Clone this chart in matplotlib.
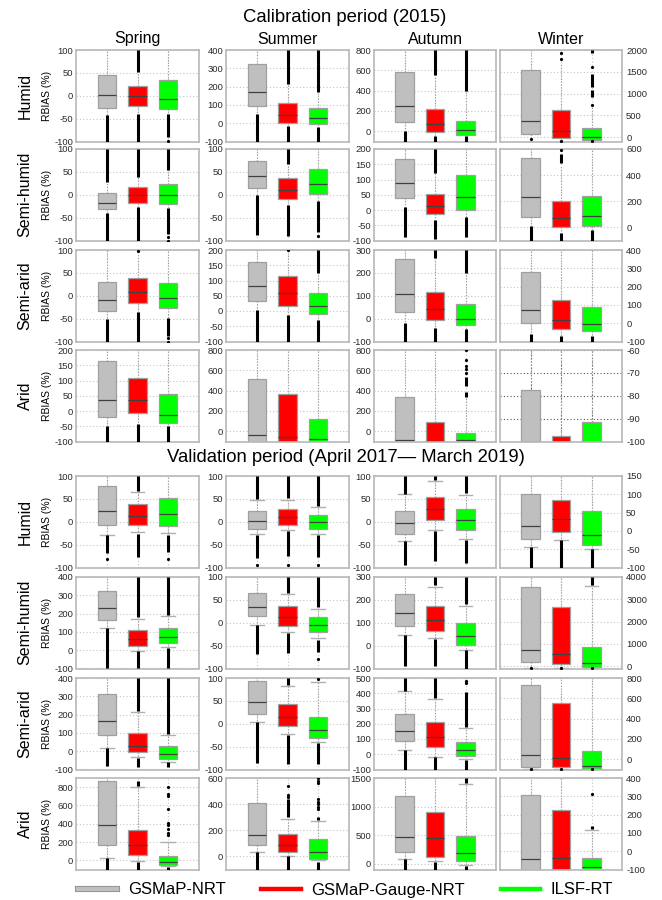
import numpy as np
import matplotlib
matplotlib.use('Agg')
import matplotlib.pyplot as plt
import matplotlib.patheffects as pe
from matplotlib.lines import Line2D

plt.rcParams['font.family'] = ['Liberation Sans', 'DejaVu Sans']

products = ['GSMaP-NRT', 'GSMaP-Gauge-NRT', 'ILSF-RT']
colors = ['#bfbfbf', '#ff0000', '#00ff00']
seasons = ['Spring', 'Summer', 'Autumn', 'Winter']
regions = ['Humid', 'Semi-humid', 'Semi-arid', 'Arid']

# box statistics, [region][season] -> [GSMaP-NRT, GSMaP-Gauge-NRT, ILSF-RT]
# calibration period (2015)
cal_q1 = [
    [[-27, -23, -30], [96, 3, -7], [95, -3, -33], [62, -15, -62]],
    [[-32, -18, -20], [15, -10, 1], [39, -13, -1], [77, 0, 8]],
    [[-34, -16.5, -27.5], [34, 15, -10], [28, -7, -29], [2, -33, -44]],
    [[-18.7, -5.5, -38], [-100, -100, -100], [-100, -100, -100], [-100, -100, -100]],
]
cal_med = [
    [[2, -1, -7], [173, 43, 26], [252, 72, 13], [371, 139, -8]],
    [[-17, 0, 0], [40, 11, 23], [87, 13, 41], [231, 75, 88]],
    [[-9.5, 7.4, -6], [82, 58, 17.6], [108, 41, -1], [73, 20, -7]],
    [[35, 36, -12], [-33, -56, -72], [-89, -99, -89], [-100, -100, -100]],
]
cal_q3 = [
    [[46, 21, 35], [321, 111, 81], [580, 223, 102], [1552, 618, 208]],
    [[4, 17, 23], [74, 37, 57], [168, 53, 115], [528, 199, 237]],
    [[29, 39, 27.5], [161, 114, 59], [259, 116, 63], [280, 127, 86]],
    [[162.6, 107.7, 55], [518, 364, 118], [334, 92, -20], [-77.4, -97.8, -91.6]],
]
cal_whislo = [
    [[-42, -40, -40], [52, -18, -23], [0, -43, -43], [-100, -100, -100]],
    [[-40, -27, -28], [-1, -23, -14], [10, -32, -23], [13, -46, -23]],
    [[-51, -36, -48], [2, -12, -29], [-20, -42, -47], [-59, -70, -70]],
    [[-48, -42, -50], [-100, -100, -100], [-100, -100, -100], [-100, -100, -100]],
]
cal_whishi = [
    [[120, 53, 120], [450, 213, 173], [900, 557, 400], [2100, 1700, 740]],
    [[28, 39, 54], [120, 68, 120], [250, 120, 250], [700, 470, 700]],
    [[120, 90, 120], [250, 190, 123], [400, 264, 200], [500, 500, 500]],
    [[250, 250, 250], [900, 900, 900], [900, 900, 330], [-50, -50, -50]],
]
# dense runs of outliers: (region, season, product, low, high)
cal_spans = [
    (0, 0, 0, -100, -42), (0, 0, 1, 53, 100), (0, 0, 1, -100, -40), (0, 0, 2, -90, -40),
    (0, 1, 0, -100, 52), (0, 1, 1, 213, 400), (0, 1, 1, -100, -18), (0, 1, 2, 173, 400), (0, 1, 2, -100, -23),
    (0, 2, 0, -100, 0), (0, 2, 1, 557, 800), (0, 2, 1, -100, -43), (0, 2, 2, 400, 800), (0, 2, 2, -100, -43),
    (0, 3, 2, 1923, 2000), (0, 3, 2, 1150, 1460), (0, 3, 2, 920, 1073),
    (1, 0, 0, 28, 100), (1, 0, 0, -100, -40), (1, 0, 1, 39, 100), (1, 0, 1, -100, -27), (1, 0, 2, 54, 100), (1, 0, 2, -85, -28),
    (1, 1, 0, -88, -1), (1, 1, 1, 68, 100), (1, 1, 1, -90, -23), (1, 1, 2, -82, -14),
    (1, 2, 0, -90, 10), (1, 2, 1, 120, 200), (1, 2, 1, -95, -32), (1, 2, 2, -90, -23),
    (1, 3, 0, -100, 13), (1, 3, 1, 493, 558), (1, 3, 1, -100, -46), (1, 3, 2, -100, -23),
    (2, 0, 0, -100, -51), (2, 0, 1, -100, -36), (2, 0, 2, -88, -48),
    (2, 1, 0, -100, 2), (2, 1, 1, -100, -12), (2, 1, 2, 123, 200), (2, 1, 2, -100, -29),
    (2, 2, 0, -100, -20), (2, 2, 1, 264, 300), (2, 2, 1, -100, -42), (2, 2, 2, 200, 300), (2, 2, 2, -100, -47),
    (2, 3, 0, -100, -59), (2, 3, 1, -100, -70), (2, 3, 2, -100, -70),
    (3, 0, 0, -100, -48), (3, 0, 1, -100, -42), (3, 0, 2, -100, -50),
    (3, 2, 2, 335, 390), (3, 2, 2, 450, 530),
]
# single outliers: (region, season, product, value)
cal_points = [
    (0, 0, 2, -99),
    (0, 3, 0, -45), (0, 3, 1, 1938), (0, 3, 1, 1784), (0, 3, 1, -80),
    (0, 3, 2, 1614), (0, 3, 2, 733), (0, 3, 2, -93),
    (1, 0, 2, -93), (1, 0, 2, -100), (1, 1, 2, -90), (1, 3, 1, 594),
    (2, 0, 1, 98), (2, 0, 2, -93), (2, 0, 2, -100), (2, 1, 1, 200),
    (3, 2, 2, 570), (3, 2, 2, 610), (3, 2, 2, 640), (3, 2, 2, 700), (3, 2, 2, 800),
]
cal_ylim = [
    [(-100, 100), (-100, 400), (-100, 800), (-100, 2000)],
    [(-100, 100), (-100, 100), (-100, 200), (-100, 600)],
    [(-100, 100), (-100, 200), (-100, 300), (-100, 400)],
    [(-100, 200), (-100, 800), (-100, 800), (-100, -60)],
]
cal_ystep = [[50, 100, 200, 500], [50, 50, 50, 200], [50, 50, 100, 100], [50, 200, 200, 10]]

# validation period (April 2017 - March 2019)
val_q1 = [
    [[-7.3, -7, -9.5], [-16, -7.3, -16], [-27, 4.4, -19], [-22, -3, -38]],
    [[167, 24, 38], [14, -6.6, -21], [85, 63, 3], [179, 119, -15]],
    [[87, -5, -45], [22, -4.4, -31], [84, 46, -9], [-72, -79, -92]],
    [[171, 55, -47], [84, 33, -18], [203, 122, 41], [-100, -100, -100]],
]
val_med = [
    [[22.7, 13, 16], [0.7, 9.5, -1.5], [-3.7, 28.6, 3], [13.7, 32, -11]],
    [[233, 60, 73], [35, 12.4, -5.8], [144, 110, 44], [746, 537, 149]],
    [[167, 31, -16], [48, 14.6, -13], [152, 110, 29], [39, 16, -66]],
    [[385, 164, -15], [166, 87, 31], [471, 453, 192], [-44, -35, -88]],
]
val_q3 = [
    [[78, 38, 53], [22.7, 27, 14], [24, 55, 27], [101, 84, 54]],
    [[325, 109, 124], [65, 37, 11.7], [225.5, 174, 100], [3567, 2657, 851]],
    [[314, 100, 26], [92.7, 44, 14], [264, 209, 81], [734, 556, 79]],
    [[865, 335, 44], [408, 171, 133], [1180, 913, 483], [307, 225, -38]],
]
val_whislo = [
    [[-28, -23, -25], [-27, -19, -27], [-41, -17.6, -38], [-43, -25, -49]],
    [[120, -2, 15], [-5, -21, -34], [48, 34, -17.5], [-90, -90, -90]],
    [[20, -31, -58], [4, -23, -39], [26, -18, -33], [-95, -95, -95]],
    [[29, -11, -58], [33, 5, -26], [76, 41, -17], [-100, -100, -100]],
]
val_whishi = [
    [[120, 66, 120], [47, 48, 32], [60, 90, 59], [200, 200, 200]],
    [[500, 173, 187], [120, 63.5, 31], [400, 256, 173], [4200, 4200, 3612]],
    [[500, 213, 90], [120, 82, 90.5], [412, 361, 170], [900, 900, 900]],
    [[1000, 805, 200], [700, 288, 268], [1600, 1600, 1395], [500, 500, 118]],
]
val_spans = [
    (0, 0, 0, -68, -30), (0, 0, 1, 68, 100), (0, 0, 1, -78, -26), (0, 0, 2, -66, -28),
    (0, 1, 0, 49, 100), (0, 1, 0, -80, -29), (0, 1, 1, 51, 100), (0, 1, 1, -75, -21), (0, 1, 2, 35, 100), (0, 1, 2, -78, -29),
    (0, 2, 0, 61.5, 100), (0, 2, 0, -95, -41), (0, 2, 1, 92, 100), (0, 2, 1, -85, -20), (0, 2, 2, 62, 100), (0, 2, 2, -90, -40),
    (0, 3, 0, -100, -43), (0, 3, 1, -100, -25), (0, 3, 2, -100, -49),
    (1, 0, 0, -100, 120), (1, 0, 1, 180, 400), (1, 0, 1, -100, -5), (1, 0, 2, 190, 400), (1, 0, 2, -95, 10),
    (1, 1, 0, -68, -5), (1, 1, 1, 66, 100), (1, 1, 1, -67, -23), (1, 1, 2, 34, 100), (1, 1, 2, -63, -37),
    (1, 2, 0, -90, 48), (1, 2, 1, 265, 300), (1, 2, 1, -90, 30), (1, 2, 2, 180, 300), (1, 2, 2, -100, -20),
    (1, 3, 2, 3640, 4000),
    (2, 0, 0, -80, 20), (2, 0, 1, 220, 400), (2, 0, 1, -85, -35), (2, 0, 2, 95, 400), (2, 0, 2, -85, -60),
    (2, 1, 0, -85, 4), (2, 1, 1, 85, 100), (2, 1, 1, -87, -25), (2, 1, 2, -88, -42),
    (2, 2, 0, 412, 500), (2, 2, 0, -100, 26), (2, 2, 1, 370, 500), (2, 2, 1, -100, -20), (2, 2, 2, 180, 410), (2, 2, 2, -100, -35),
    (3, 0, 0, -100, 29), (3, 0, 1, 815, 865), (3, 0, 1, -100, -15), (3, 0, 2, -100, -75),
    (3, 1, 0, -100, 33), (3, 1, 1, 300, 440), (3, 1, 1, -100, 0), (3, 1, 2, 280, 300), (3, 1, 2, -100, -40),
    (3, 2, 0, -100, 76), (3, 2, 1, -100, 30), (3, 2, 2, 1420, 1500), (3, 2, 2, -100, -40),
    (3, 3, 2, 122, 135),
]
val_points = [
    (0, 0, 0, -81), (0, 0, 2, -81),
    (0, 1, 0, -94), (0, 1, 1, -94), (0, 1, 2, -94),
    (1, 1, 2, -80),
    (1, 3, 0, -90), (1, 3, 1, -90), (1, 3, 2, -90),
    (2, 1, 2, 97), (2, 2, 2, 478), (2, 2, 2, 468),
    (2, 3, 0, -95), (2, 3, 1, -95), (2, 3, 2, -97),
    (3, 0, 2, 800), (3, 0, 2, 720), (3, 0, 2, 702), (3, 0, 2, 564), (3, 0, 2, 411),
    (3, 0, 2, 385), (3, 0, 2, 338), (3, 0, 2, 302), (3, 0, 2, 276),
    (3, 1, 1, 540), (3, 1, 1, 470), (3, 1, 1, 455),
    (3, 1, 2, 600), (3, 1, 2, 580), (3, 1, 2, 560), (3, 1, 2, 440), (3, 1, 2, 420),
    (3, 1, 2, 400), (3, 1, 2, 380), (3, 1, 2, 360),
    (3, 3, 2, 311),
]
val_ylim = [
    [(-100, 100), (-100, 100), (-100, 100), (-100, 150)],
    [(-100, 400), (-100, 100), (-100, 300), (-100, 4000)],
    [(-100, 400), (-100, 100), (-100, 500), (-100, 800)],
    [(-100, 900), (-100, 600), (-100, 1500), (-100, 400)],
]
val_ystep = [[50, 50, 50, 50], [100, 50, 100, 1000], [100, 50, 100, 200], [200, 200, 500, 100]]

W, H = 662, 900
fig = plt.figure(figsize=(W / 100, H / 100), dpi=100)

col_left = [76, 226, 374, 500]
col_w = [123, 123, 122, 122]
row_top = [50, 149, 250, 350, 476, 577, 678, 778]
row_h = 91.5


def draw_panel(ax, r, s, q1, med, q3, lo, hi, ylim, ystep, spans, points, caps, dark):
    stats = [dict(q1=q1[r][s][k], med=med[r][s][k], q3=q3[r][s][k],
                  whislo=lo[r][s][k], whishi=hi[r][s][k]) for k in range(3)]
    bp = ax.bxp(stats, positions=[1, 2, 3], widths=0.6, patch_artist=True,
                showfliers=False, showcaps=caps, capwidths=0.45,
                boxprops=dict(edgecolor='#a0a0a0', linewidth=0.9),
                medianprops=dict(color='#404040', linewidth=0.9),
                whiskerprops=dict(color='#9a9a9a', linestyle=(0, (1, 1.5)), linewidth=0.8),
                capprops=dict(color='#b0b0b0', linewidth=1.0))
    for patch, c in zip(bp['boxes'], colors):
        patch.set_facecolor(c)
    for rr, ss, k, a, b in spans:
        if rr == r and ss == s:
            ax.vlines(k + 1, a, b, color='black', lw=2.2, zorder=4)
    for rr, ss, k, v in points:
        if rr == r and ss == s:
            ax.plot(k + 1, v, 'o', color='black', ms=2.3, mec='none', zorder=4)

    lo_y, hi_y = ylim[r][s]
    step = ystep[r][s]
    ax.set_xlim(0, 4)
    ax.set_ylim(lo_y, hi_y)
    ax.set_yticks(np.arange(np.ceil(lo_y / step) * step, hi_y + 1e-6, step))
    ax.yaxis.set_major_formatter(plt.FuncFormatter(lambda v, p: str(int(round(v)))))
    ax.set_xticks([1, 2, 3])
    ax.set_xticklabels([])
    ax.tick_params(length=0, labelsize=6.8, pad=2, colors='#2a2a2a')
    if s == 3:
        ax.yaxis.tick_right()
        ax.tick_params(pad=3)
    gc = '#555555' if dark else '#c4c4c4'
    ax.grid(True, linestyle=(0, (1, 2)), color=gc, lw=0.8)
    ax.set_axisbelow(True)
    for sp in ax.spines.values():
        sp.set_color('#b8b8b8')
        sp.set_linewidth(1.2)


periods = [
    (cal_q1, cal_med, cal_q3, cal_whislo, cal_whishi, cal_ylim, cal_ystep, cal_spans, cal_points, False),
    (val_q1, val_med, val_q3, val_whislo, val_whishi, val_ylim, val_ystep, val_spans, val_points, True),
]

for p, (q1, med, q3, lo, hi, ylim, ystep, spans, points, caps) in enumerate(periods):
    for r in range(4):
        top = row_top[p * 4 + r]
        for s in range(4):
            ax = fig.add_axes([col_left[s] / W, 1 - (top + row_h) / H, col_w[s] / W, row_h / H])
            draw_panel(ax, r, s, q1, med, q3, lo, hi, ylim, ystep, spans, points, caps,
                       dark=(p == 0 and r == 3 and s == 3))
        yc = 1 - (top + row_h / 2) / H
        fig.text(25 / W, yc, regions[r], rotation=90, ha='center', va='center', fontsize=11.5)
        fig.text(47 / W, yc, 'RBIAS (%)', rotation=90, ha='center', va='center', fontsize=7.5)

fig.text(345 / W, 1 - 17 / H, 'Calibration period (2015)', ha='center', va='center', fontsize=13.3)
fig.text(346 / W, 1 - 458 / H, 'Validation period (April 2017\u2014 March 2019)',
         ha='center', va='center', fontsize=13.3)
for s in range(4):
    fig.text((col_left[s] + col_w[s] / 2) / W, 1 - 39 / H, seasons[s],
             ha='center', va='center', fontsize=11.5)

handles = [
    Line2D([], [], color=colors[0], lw=3.2,
           path_effects=[pe.Stroke(linewidth=4.4, foreground='#8c8c8c'), pe.Normal()]),
    Line2D([], [], color=colors[1], lw=3.2),
    Line2D([], [], color=colors[2], lw=3.2),
]
fig.legend(handles, products, loc='center', bbox_to_anchor=(345.5 / W, 1 - 890 / H),
           ncol=3, frameon=False, fontsize=12, handlelength=2.35, handletextpad=0.64,
           columnspacing=2.15)

fig.savefig('out.png', dpi=100)
